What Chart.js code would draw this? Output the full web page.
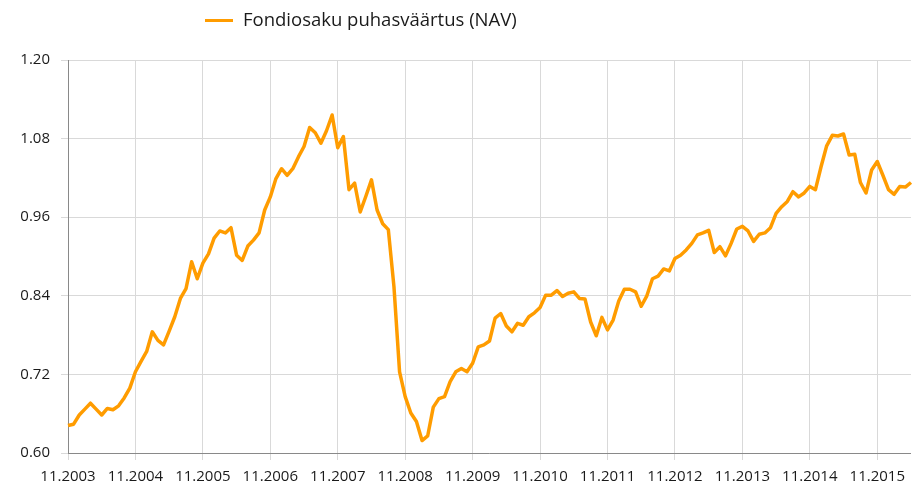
<!DOCTYPE html>
<html>
<head>
<meta charset="utf-8">
<script src="https://cdn.jsdelivr.net/npm/chart.js@4/dist/chart.umd.min.js"></script>
<style>
  html, body { margin: 0; padding: 0; background: #fff; }
  #wrap { width: 913px; height: 491px; position: relative; }
</style>
</head>
<body>
<div id="wrap"><canvas id="navChart"></canvas></div>
<script>
// NAV of the fund unit, monthly from 11.2003
const seriesName = 'Fondiosaku puhasväärtus (NAV)';
const startMonth = 11;
const startYear = 2003;
const navValues = [
    0.642, 0.644, 0.658, 0.667, 0.676, 0.667, 0.658, 0.668, 0.666, 0.672,
    0.684, 0.699, 0.724, 0.740, 0.755, 0.785, 0.772, 0.765, 0.786, 0.808,
    0.836, 0.851, 0.892, 0.866, 0.890, 0.904, 0.928, 0.939, 0.936, 0.944,
    0.902, 0.894, 0.916, 0.925, 0.936, 0.971, 0.991, 1.019, 1.034, 1.024,
    1.034, 1.052, 1.068, 1.097, 1.089, 1.073, 1.092, 1.116, 1.066, 1.083,
    1.002, 1.012, 0.968, 0.992, 1.017, 0.971, 0.950, 0.941, 0.854, 0.724,
    0.686, 0.661, 0.648, 0.619, 0.626, 0.670, 0.683, 0.686, 0.709, 0.724,
    0.729, 0.724, 0.737, 0.762, 0.765, 0.771, 0.806, 0.813, 0.794, 0.785,
    0.798, 0.795, 0.808, 0.814, 0.822, 0.841, 0.841, 0.848, 0.839, 0.844,
    0.846, 0.836, 0.835, 0.800, 0.779, 0.807, 0.788, 0.803, 0.832, 0.850,
    0.850, 0.846, 0.824, 0.840, 0.866, 0.870, 0.881, 0.878, 0.897, 0.902,
    0.910, 0.920, 0.933, 0.936, 0.940, 0.906, 0.915, 0.901, 0.920, 0.942,
    0.946, 0.939, 0.923, 0.934, 0.936, 0.944, 0.966, 0.976, 0.984, 0.999,
    0.991, 0.997, 1.007, 1.002, 1.037, 1.069, 1.085, 1.084, 1.087, 1.055,
    1.056, 1.013, 0.997, 1.032, 1.045, 1.024, 1.002, 0.995, 1.007, 1.006,
    1.013
];
const yTicks = [0.60, 0.72, 0.84, 0.96, 1.08, 1.20];

// month labels mm.yyyy
const monthLabels = [];
for (let i = 0; i < navValues.length; i++) {
    const m = (startMonth - 1 + i) % 12 + 1;
    const y = startYear + Math.floor((startMonth - 1 + i) / 12);
    monthLabels.push(String(m).padStart(2, '0') + '.' + y);
}

const lineColor = '#ff9c00';
const gridColor = '#d9d9d9';
const axisColor = '#898989';
const textFont = { family: "'Open Sans', 'Noto Sans', sans-serif", size: 15 };

// legend drawn by hand, sits left of centre like the original
const topLegend = {
    id: 'topLegend',
    afterDraw(chart) {
        const ctx = chart.ctx;
        const ds = chart.data.datasets[0];
        ctx.save();
        ctx.strokeStyle = ds.borderColor;
        ctx.lineWidth = 3;
        ctx.beginPath();
        ctx.moveTo(205, 20.5);
        ctx.lineTo(233, 20.5);
        ctx.stroke();
        ctx.fillStyle = '#1a1a1a';
        ctx.font = "18.5px 'Open Sans', 'Noto Sans', sans-serif";
        ctx.textBaseline = 'middle';
        ctx.fillText(ds.label, 243, 21);
        ctx.restore();
    }
};

const chart = new Chart(document.getElementById('navChart').getContext('2d'), {
    type: 'line',
    data: {
        labels: monthLabels,
        datasets: [{
            label: seriesName,
            data: navValues,
            borderColor: lineColor,
            backgroundColor: lineColor,
            borderWidth: 3.5,
            pointRadius: 0,
            tension: 0,
            borderJoinStyle: 'round'
        }]
    },
    options: {
        responsive: true,
        maintainAspectRatio: false,
        animation: false,
        layout: { padding: { top: 60, right: 1, left: 0, bottom: 0 } },
        plugins: {
            legend: { display: false },
            tooltip: { enabled: false }
        },
        scales: {
            x: {
                grid: { color: gridColor, tickLength: 7, tickColor: gridColor },
                border: { color: axisColor },
                ticks: {
                    autoSkip: false,
                    maxRotation: 0,
                    padding: 8,
                    color: '#1a1a1a',
                    font: textFont,
                    callback: (val, idx) => idx % 12 === 0 ? monthLabels[idx] : null
                },
                afterFit: s => { s.height = 38; }
            },
            y: {
                min: yTicks[0],
                max: yTicks[yTicks.length - 1],
                afterBuildTicks: s => { s.ticks = yTicks.map(v => ({ value: v })); },
                grid: { color: gridColor, tickLength: 7, tickColor: gridColor },
                border: { color: axisColor },
                ticks: {
                    padding: 11,
                    color: '#1a1a1a',
                    font: textFont,
                    callback: v => Number(v).toFixed(2)
                },
                afterFit: s => { s.width = 68; }
            }
        }
    },
    plugins: [topLegend]
});
</script>
</body>
</html>
